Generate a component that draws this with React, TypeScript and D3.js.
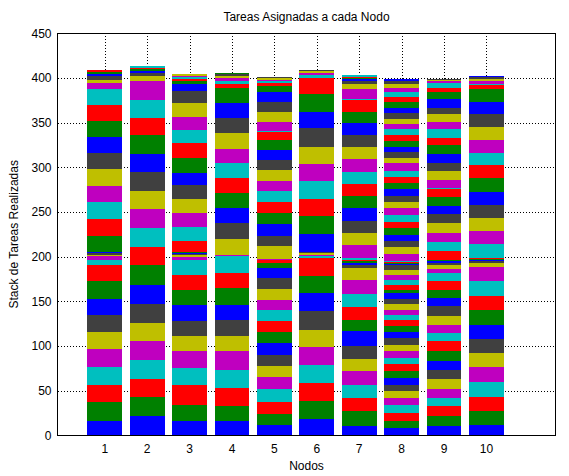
import React from 'react'
import * as d3 from 'd3'

const W = 569, H = 476

const categories = ['1', '2', '3', '4', '5', '6', '7', '8', '9', '10']
const yTicks = [0, 50, 100, 150, 200, 250, 300, 350, 400, 450]

// tareas apiladas por nodo (de abajo hacia arriba)
const nodo1 = [15.5, 21.3, 19.8, 19.8, 20.2, 18.7, 19.8, 17.5, 19.8, 18.7, 4.9, 4.5, 1.8, 1.9, 0.7, 18.7, 18.7, 18.7, 17.9, 18.7, 18.7, 17.9, 17.6, 18.1, 17.3, 6.7, 3.8, 4.5, 2.2, 2.6, 1.9]
const nodo2 = [21.1, 21.7, 20.2, 21.6, 20.6, 20.5, 21.7, 20.9, 22.1, 20.1, 21.0, 21.3, 20.5, 21.3, 19.8, 21.3, 19.8, 19.8, 21.3, 5.6, 3.7, 2.0, 2.0, 1.6, 1.5]
const nodo3 = [15.5, 18.7, 22.4, 18.7, 18.7, 17.5, 16.8, 18.0, 16.8, 16.8, 16.8, 2.8, 2.0, 1.5, 1.0, 1.0, 12.3, 15.7, 15.3, 15.7, 16.1, 13.8, 16.5, 17.2, 14.2, 14.9, 15.0, 13.8, 7.5, 3.7, 2.0, 2.0, 2.0, 1.5]
const nodo4 = [15.5, 16.8, 20.6, 20.5, 20.6, 17.5, 17.2, 17.6, 18.7, 16.8, 18.7, 1.8, 17.6, 17.2, 16.8, 16.8, 17.6, 16.8, 15.7, 17.2, 17.5, 16.9, 16.8, 3.8, 3.7, 3.7, 2.0, 1.5, 1.0, 1.0]
const nodo5 = [11.0, 13.1, 13.1, 14.5, 13.1, 13.1, 12.3, 13.1, 12.3, 12.7, 12.4, 11.2, 11.9, 12.4, 11.2, 5.6, 3.0, 0.7, 1.1, 13.8, 12.0, 13.1, 11.6, 13.0, 12.0, 11.2, 12.0, 11.2, 11.6, 10.8, 9.5, 1.0, 10.4, 10.8, 11.6, 11.2, 6.4, 3.7, 2.0, 1.5, 1.5, 1.0]
const nodo6 = [18.1, 19.8, 20.6, 20.5, 19.8, 19.4, 20.6, 20.5, 19.5, 19.8, 2.0, 1.5, 1.5, 1.3, 20.6, 19.8, 19.4, 19.8, 19.4, 19.1, 20.5, 18.7, 19.4, 18.8, 2.6, 3.0, 2.0, 1.0]
const nodo7 = [10.6, 16.1, 15.0, 14.9, 14.9, 14.2, 14.6, 16.1, 13.1, 13.8, 14.9, 16.1, 13.1, 3.0, 2.5, 2.0, 1.5, 2.2, 14.9, 13.1, 13.8, 13.5, 14.5, 13.1, 13.1, 14.2, 13.8, 13.1, 13.5, 12.6, 13.5, 1.0, 10.9, 5.6, 3.8, 2.0, 1.5, 1.5, 1.4]
const nodo8 = [8.0, 7.5, 9.3, 9.4, 7.5, 7.4, 7.5, 7.5, 7.4, 8.6, 6.4, 7.4, 7.5, 7.5, 6.4, 7.4, 6.8, 5.6, 5.6, 6.3, 5.6, 6.7, 3.8, 5.6, 5.6, 5.6, 5.6, 5.6, 1.0, 1.0, 1.0, 0.7, 8.3, 7.4, 6.8, 7.4, 7.5, 6.7, 7.5, 7.5, 7.4, 7.1, 6.8, 6.7, 7.5, 6.3, 8.6, 6.4, 6.3, 6.0, 6.3, 6.4, 6.7, 6.4, 5.6, 6.0, 6.3, 6.4, 6.0, 5.2, 4.9, 3.7, 3.8, 2.6]
const nodo9 = [9.9, 11.2, 11.2, 9.4, 10.1, 11.2, 10.4, 9.4, 11.2, 11.2, 9.3, 9.4, 10.1, 10.4, 9.3, 9.4, 9.3, 9.4, 4.4, 4.9, 1.9, 1.8, 1.0, 10.2, 10.1, 10.5, 11.2, 9.4, 9.3, 10.5, 8.3, 1.0, 9.3, 10.1, 9.4, 9.3, 10.1, 8.6, 9.3, 8.6, 8.2, 7.5, 9.3, 8.3, 4.9, 4.8, 2.6, 1.2, 0.7]
const nodo10 = [11.0, 15.7, 16.1, 16.8, 16.8, 15.7, 15.7, 16.1, 16.1, 16.4, 16.0, 16.1, 4.5, 2.0, 1.5, 1.0, 1.1, 15.7, 14.9, 14.2, 14.2, 15.0, 14.9, 14.6, 13.4, 15.0, 14.5, 14.2, 13.9, 14.1, 4.5, 1.0, 3.9, 2.5, 2.0, 1.4]

const nodos = [nodo1, nodo2, nodo3, nodo4, nodo5, nodo6, nodo7, nodo8, nodo9, nodo10]

// orden de colores estilo MATLAB
const palette = ['#0000ff', '#008000', '#ff0000', '#00bfbf', '#bf00bf', '#bfbf00', '#404040']

const FONT = '"Liberation Sans", Arial, Helvetica, sans-serif'

export default function App() {
  const x = d3.scaleLinear().domain([-0.115, 11.63]).range([57.5, 555.5])
  const y = d3.scaleLinear().domain([0, 450]).range([435.3, 33.3])
  const bw = x(0.82) - x(0)
  const left = x.range()[0], right = x.range()[1], top = y(450), bottom = y(0)

  const segs = nodos.flatMap((vals, i) => {
    let acc = 0
    return vals.map((v, k) => {
      const y0 = acc
      acc += v
      return { i, k, y0, y1: acc }
    })
  })

  return (
    <svg width={W} height={H} style={{ position: 'absolute', left: 0, top: 0, background: '#fff' }}>
      {/* grid */}
      <g stroke="#000" strokeWidth={1} strokeDasharray="1,2" shapeRendering="crispEdges">
        {yTicks.slice(1, -1).map(t => (
          <line key={'gy' + t} x1={left} x2={right} y1={Math.round(y(t)) + 0.5} y2={Math.round(y(t)) + 0.5} />
        ))}
        {categories.map((c, i) => (
          <line key={'gx' + c} x1={Math.round(x(i + 1)) + 0.5} x2={Math.round(x(i + 1)) + 0.5} y1={top} y2={bottom} />
        ))}
      </g>
      {/* bars */}
      <g shapeRendering="crispEdges">
        {segs.map(s => (
          <rect key={s.i + '-' + s.k}
            x={x(s.i + 1) - bw / 2} width={bw}
            y={y(s.y1)} height={y(s.y0) - y(s.y1)}
            fill={palette[s.k % palette.length]} />
        ))}
      </g>
      {/* frame */}
      <rect x={left} y={top} width={right - left} height={bottom - top} fill="none" stroke="#000" strokeWidth={1} shapeRendering="crispEdges" />
      {/* labels */}
      <g fontFamily={FONT} fontSize={12} fill="#000">
        {yTicks.map(t => (
          <text key={'ty' + t} x={left - 6} y={y(t)} dy="0.35em" textAnchor="end">{t}</text>
        ))}
        {categories.map((c, i) => (
          <text key={'tx' + c} x={x(i + 1)} y={bottom + 18} textAnchor="middle">{c}</text>
        ))}
        <text x={(left + right) / 2} y={470} textAnchor="middle">Nodos</text>
        <text transform={`translate(18,${(top + bottom) / 2}) rotate(-90)`} textAnchor="middle">Stack de Tareas Realizadas</text>
        <text x={(left + right) / 2} y={21} textAnchor="middle">Tareas Asignadas a cada Nodo</text>
      </g>
    </svg>
  )
}
